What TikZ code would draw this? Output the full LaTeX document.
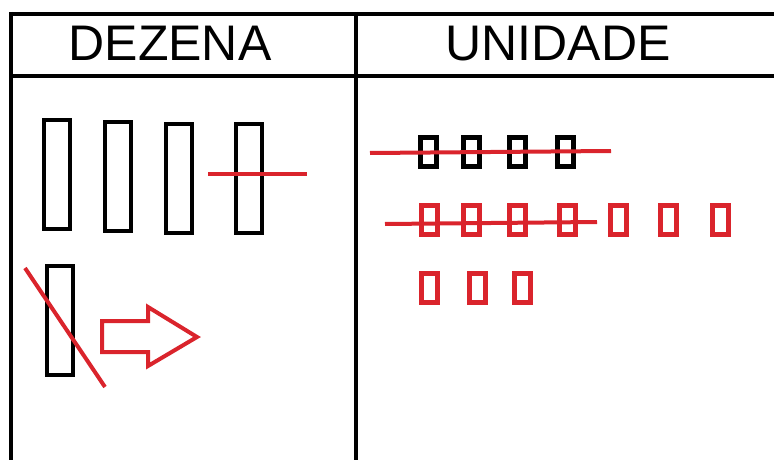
\documentclass[tikz,border=0pt]{standalone}
\usepackage{fontspec}
\setmainfont{Liberation Sans}
\usepackage{tikz}
\usetikzlibrary{positioning,calc}
\definecolor{risco}{RGB}{218,36,44}
\tikzset{
    bar/.style={draw, rectangle, line width=4pt, minimum width=26pt, minimum height=109pt, inner sep=0pt},
    unit/.style={draw, rectangle, line width=5pt, minimum width=16pt, minimum height=29pt, inner sep=0pt},
    redunit/.style={unit, draw=risco},
    strike/.style={risco, line width=4pt},
    grid/.style={line width=4pt}
}

\begin{document}
\begin{tikzpicture}[x=1pt, y=-1pt]
    \useasboundingbox (0,0) rectangle (774,460);
    % table
    \draw [grid] (11,14) -- (774,14);
    \draw [grid] (11,76) -- (774,76);
    \draw [grid] (11,12) -- (11,460);
    \draw [grid] (356,12) -- (356,460);
    \node [anchor=base, font=\fontsize{50}{50}\selectfont] (Dezena) at (170,60) {DEZENA};
    \node [anchor=base, font=\fontsize{50}{50}\selectfont] (Unidade) at (558,60) {UNIDADE};

    % dezenas
    \node [bar] (B1) at (57,174) {};
    \node [bar] (B2) at (118,176) {};
    \node [bar] (B3) at (179,178) {};
    \node [bar] (B4) at (249,178) {};
    \node [bar] (B5) at (60,320) {};
    \coordinate (s1) at (208,174);
    \coordinate (s2) at (307,174);
    \draw [strike] (s1) -- (s2);
    \coordinate (d1) at (25,268);
    \coordinate (d2) at (105,387);
    \draw [strike] (d1) -- (d2);

    % seta
    \draw [risco, line width=4pt, line join=miter]
        (102,321) -- (148,321) -- (148,307) -- (197,337) -- (148,366) -- (148,352) -- (102,352) -- cycle;

    % unidades
    \foreach \x [count=\i] in {428,471,517,565.5}
        \node [unit] (U\i) at (\x,152) {};
    \coordinate (u1) at (370,153);
    \coordinate (u2) at (611,151);
    \draw [strike] (u1) -- (u2);

    \foreach \x [count=\i] in {429,471.5,517,567.5,618,668,720}
        \node [redunit] (R\i) at (\x,220) {};
    \coordinate (r1) at (385,224);
    \coordinate (r2) at (597,222);
    \draw [strike] (r1) -- (r2);

    \foreach \x [count=\i] in {429,477.5,522}
        \node [redunit] (T\i) at (\x,288) {};
\end{tikzpicture}
\end{document}
